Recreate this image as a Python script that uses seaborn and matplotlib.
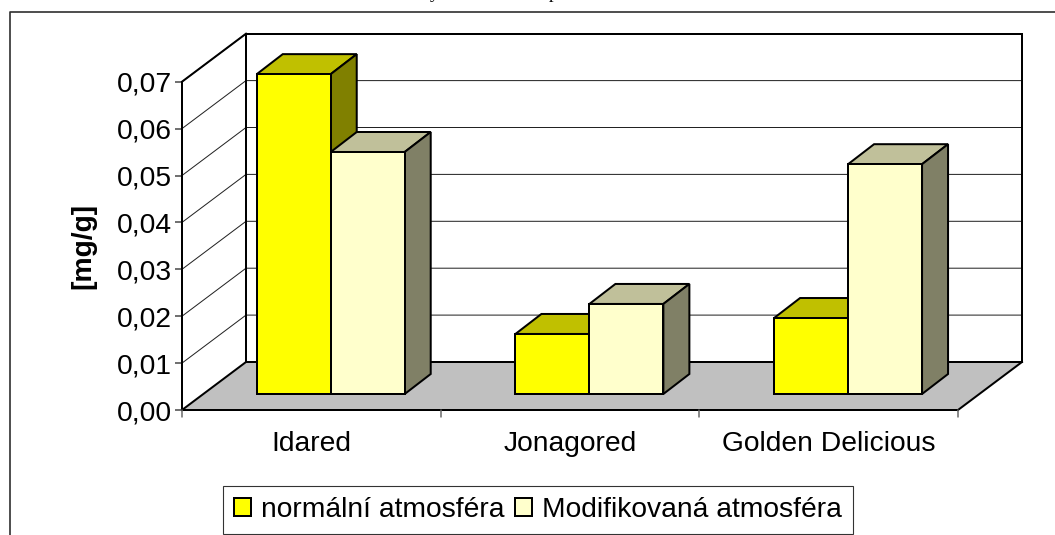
import numpy as np
import pandas as pd
import matplotlib
matplotlib.use("Agg")
import matplotlib.pyplot as plt
import seaborn as sns
from matplotlib.patches import Patch, Polygon
from matplotlib.lines import Line2D
from matplotlib.transforms import Affine2D

# ---- data -----------------------------------------------------------------
categories = ["Idared", "Jonagored", "Golden Delicious"]
series_names = ["normální atmosféra", "Modifikovaná atmosféra"]
normal_values = [0.0682, 0.0128, 0.0162]
modified_values = [0.0516, 0.0192, 0.0490]
y_ticks = [0.00, 0.01, 0.02, 0.03, 0.04, 0.05, 0.06, 0.07]
y_label = "[mg/g]"

# ---- style ----------------------------------------------------------------
W, H = 1055, 535
DPI = 100
px = 72 / DPI
sns.set_theme(style="white")
plt.rcParams["font.family"] = ["Liberation Sans", "DejaVu Sans"]
plt.rcParams["text.color"] = "black"
FS = 20.3
LW = 2.0 * px
face = {series_names[0]: "#FFFF00", series_names[1]: "#FFFFCC"}
top = {series_names[0]: "#C0C000", series_names[1]: "#C0C09A"}
side = {series_names[0]: "#808000", series_names[1]: "#808066"}

fig = plt.figure(figsize=(W / DPI, H / DPI), dpi=DPI, facecolor="white")


def box(l, t, r, b):
    return [l / W, 1 - b / H, (r - l) / W, (b - t) / H]


# front plane axes: carries the ticks and labels
front_l, front_r, front_b, front_t = 182, 958, 410, 81.7
ax = fig.add_axes(box(front_l, front_t, front_r, front_b), facecolor="none")
ax.set_xlim(-0.5, len(categories) - 0.5)
ax.set_ylim(0, y_ticks[-1])
for s in ax.spines.values():
    s.set_visible(False)

# depth of the chart box, in pixels
DX, DY = 64, 48
BAR_SHIFT_X, BAR_SHIFT_Y = 19.4, 16
BAR_DX, BAR_DY = 26, 20


def shifted(dx_px, dy_px):
    return ax.transData + Affine2D().translate(dx_px, dy_px)


back = shifted(DX, DY)
xl, xr = ax.get_xlim()

# frame of the whole chart area, cut off by the image edge
fig.add_artist(Line2D([10 / W, 10 / W, 1], [0, 1 - 12 / H, 1 - 12 / H],
                      color="#333333", lw=LW * 0.85, transform=fig.transFigure))

# cut-off caption of the page above the chart: only the descenders show
for ch, xp in zip("yp", (430, 549)):
    fig.text(xp / W, 1 + 2 / H, ch, family="Liberation Serif", fontsize=13.5,
             color="black", va="baseline", ha="left")

# floor
fig.add_artist(Polygon([ax.transData.transform((xl, 0)), back.transform((xl, 0)),
                        back.transform((xr, 0)), ax.transData.transform((xr, 0))],
                       closed=True, facecolor="#C0C0C0", edgecolor="none",
                       transform=None, zorder=1))

# gridlines across back wall and side wall
for v in y_ticks[1:]:
    p0 = ax.transData.transform((xl, v))
    p1 = back.transform((xl, v))
    p2 = back.transform((xr, v))
    fig.add_artist(Line2D([p0[0], p1[0], p2[0]], [p0[1], p1[1], p2[1]],
                          color="#222222", lw=1.0 * px, transform=None, zorder=1.2))

# heavy outline of the box
vmax = y_ticks[-1]
outline = [
    [(ax.transData, xl, 0), (ax.transData, xl, vmax)],
    [(ax.transData, xl, vmax), (back, xl, vmax)],
    [(ax.transData, xl, 0), (back, xl, 0)],
    [(back, xl, 0), (back, xl, vmax)],
    [(back, xl, vmax), (back, xr, vmax)],
    [(back, xr, vmax), (back, xr, 0)],
    [(back, xl, 0), (back, xr, 0)],
    [(ax.transData, xr, 0), (back, xr, 0)],
    [(ax.transData, xl, 0), (ax.transData, xr, 0)],
]
for seg in outline:
    a = seg[0][0].transform(seg[0][1:])
    b = seg[1][0].transform(seg[1][1:])
    fig.add_artist(Line2D([a[0], b[0]], [a[1], b[1]], color="black",
                          lw=LW, transform=None, zorder=1.5,
                          solid_capstyle="projecting"))

# ticks and labels
ax.set_yticks(y_ticks)
ax.set_yticklabels([f"{v:.2f}".replace(".", ",") for v in y_ticks], fontsize=FS, color="black")
ax.set_xticks(range(len(categories)))
ax.set_xticklabels(categories, fontsize=FS, color="black")
ax.xaxis.set_tick_params(length=0, pad=15)
ax.yaxis.set_tick_params(length=7 * px, width=1.5 * px, color="#444444", pad=2, left=True)
for x in np.arange(xl, xr + 0.01, 1.0):
    p = ax.transData.transform((x, 0))
    fig.add_artist(Line2D([p[0], p[0]], [p[1], p[1] - 7], color="#666666",
                          lw=1.5 * px, transform=None))
ax.set_ylabel(y_label, fontsize=FS, fontweight="bold", color="black", labelpad=15)
ax.grid(False)

# bar plane axes: same scales, moved back by the bar offset
bx = fig.add_axes(box(front_l + BAR_SHIFT_X, front_t - BAR_SHIFT_Y,
                      front_r + BAR_SHIFT_X, front_b - BAR_SHIFT_Y), facecolor="none")
bx.set_zorder(5)
df = pd.DataFrame({
    "cat": categories * 2,
    "series": [series_names[0]] * len(categories) + [series_names[1]] * len(categories),
    "value": normal_values + modified_values,
})
sns.barplot(data=df, x="cat", y="value", hue="series", hue_order=series_names,
            palette=face, width=0.572, gap=0, dodge=True, errorbar=None, saturation=1,
            edgecolor="black", linewidth=LW, ax=bx, legend=False)
bx.set_xlim(xl, xr)
bx.set_ylim(0, vmax)
bx.set_axis_off()

# depth faces of each bar, taken from the bars seaborn drew
order = []
for container, name in zip(bx.containers, series_names):
    for patch in container:
        order.append((patch, name))
order.sort(key=lambda t: t[0].get_x())
fig.canvas.draw()
for z, (patch, name) in enumerate(order):
    x0, w, h = patch.get_x(), patch.get_width(), patch.get_height()
    a = np.array(bx.transData.transform((x0, h)))
    b = np.array(bx.transData.transform((x0 + w, h)))
    c = np.array(bx.transData.transform((x0 + w, 0)))
    d = np.array([BAR_DX, BAR_DY])
    kw = dict(closed=True, edgecolor="black", lw=LW, transform=None,
              joinstyle="miter", zorder=2 + 0.01 * z, clip_on=False)
    bx.add_patch(Polygon([a, a + d, b + d, b], facecolor=top[name], **kw))
    bx.add_patch(Polygon([b, b + d, c + d, c], facecolor=side[name], **kw))
    patch.set_zorder(2.005 + 0.01 * z)
    patch.set_clip_on(False)

# legend
handles = [Patch(facecolor=face[n], edgecolor="black", lw=LW) for n in series_names]
leg = fig.legend(handles, series_names, ncol=2, fontsize=FS, frameon=True, fancybox=False,
                 edgecolor="#333333", facecolor="white", framealpha=1, labelcolor="black",
                 loc="center", bbox_to_anchor=(538 / W, 1 - 510 / H),
                 handlelength=0.6, handleheight=0.6, handletextpad=0.36,
                 columnspacing=0.36, borderpad=0.4, borderaxespad=0)
leg.get_frame().set_linewidth(1.1 * px)
leg.set_zorder(6)

fig.savefig("out.png", dpi=DPI)
